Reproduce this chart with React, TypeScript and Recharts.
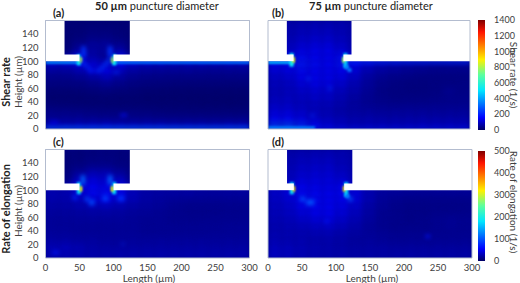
import { ComposedChart, XAxis, YAxis, ReferenceArea, Scatter } from 'recharts';

// column starts (um) and row starts (um, top row first) of the coarse field grids
const colStarts = [0, 20, 40, 60, 80, 100, 120, 140, 160, 180, 200, 220, 240, 260, 280];
const rowStarts = [150, 140, 130, 120, 110, 100, 90, 80, 70, 60, 50, 40, 30, 20, 10, 0];

const xTicks = [0, 50, 100, 150, 200, 250, 300];
const yTicks = [0, 20, 40, 60, 80, 100, 120, 140];
const shearBarTicks = [0, 200, 400, 600, 800, 1000, 1200, 1400];
const elongBarTicks = [0, 100, 200, 300, 400, 500];

// jet colormap stops
const jetStops: [number, number, number, number][] = [
  [0, 0, 0, 100],
  [0.11, 0, 0, 255],
  [0.36, 0, 230, 255],
  [0.5, 90, 255, 160],
  [0.64, 255, 240, 0],
  [0.89, 255, 20, 0],
  [1, 127, 0, 0],
];

const shearA = [
  [15, 15, 15, 15, 15, 15, 15, 15, 15, 15, 15, 15, 15, 15, 15],
  [15, 15, 18, 25, 25, 20, 15, 15, 15, 15, 15, 15, 15, 15, 15],
  [15, 15, 22, 35, 35, 25, 15, 15, 15, 15, 15, 15, 15, 15, 15],
  [15, 18, 40, 60, 60, 45, 18, 15, 15, 15, 15, 15, 15, 15, 15],
  [20, 22, 70, 70, 65, 80, 22, 15, 15, 15, 15, 15, 15, 15, 15],
  [50, 70, 170, 80, 60, 170, 70, 50, 50, 50, 50, 50, 50, 50, 50],
  [120, 120, 160, 125, 110, 160, 120, 110, 105, 100, 100, 100, 100, 100, 100],
  [70, 70, 90, 130, 150, 105, 75, 65, 60, 60, 60, 55, 55, 55, 55],
  [45, 45, 55, 75, 100, 70, 50, 42, 40, 38, 38, 38, 38, 38, 38],
  [30, 30, 32, 42, 55, 42, 32, 26, 25, 22, 22, 22, 22, 22, 22],
  [15, 15, 18, 22, 28, 22, 18, 14, 12, 10, 10, 10, 10, 10, 10],
  [8, 8, 8, 10, 12, 10, 10, 6, 6, 5, 5, 5, 5, 5, 5],
  [18, 16, 14, 12, 12, 12, 12, 12, 10, 10, 10, 8, 8, 8, 8],
  [40, 38, 35, 30, 28, 28, 28, 25, 22, 20, 20, 20, 20, 20, 20],
  [55, 55, 55, 50, 48, 48, 45, 45, 40, 40, 40, 40, 40, 40, 40],
  [90, 90, 95, 100, 105, 95, 90, 90, 90, 85, 85, 85, 85, 90, 90],
];

const shearB = [
  [80, 80, 85, 90, 90, 85, 80, 80, 80, 80, 80, 80, 80, 80, 80],
  [80, 85, 95, 100, 100, 90, 80, 80, 80, 80, 80, 80, 80, 80, 80],
  [80, 90, 105, 115, 115, 100, 85, 80, 80, 80, 80, 80, 80, 80, 80],
  [80, 100, 120, 130, 130, 110, 85, 80, 80, 80, 80, 80, 80, 80, 80],
  [80, 110, 140, 150, 150, 130, 90, 80, 80, 80, 80, 80, 80, 80, 80],
  [130, 150, 170, 160, 150, 170, 130, 100, 90, 80, 80, 80, 80, 80, 80],
  [150, 160, 190, 170, 160, 180, 150, 115, 90, 80, 70, 65, 60, 60, 60],
  [130, 140, 170, 160, 150, 160, 130, 90, 70, 60, 50, 45, 40, 40, 40],
  [110, 120, 150, 155, 150, 140, 110, 70, 50, 40, 35, 30, 30, 30, 30],
  [100, 105, 130, 145, 140, 120, 90, 60, 40, 30, 25, 25, 28, 30, 32],
  [95, 100, 115, 125, 120, 100, 80, 55, 35, 28, 25, 25, 30, 45, 35],
  [100, 105, 105, 115, 110, 90, 70, 50, 38, 30, 30, 30, 35, 40, 40],
  [110, 110, 100, 100, 95, 80, 65, 50, 45, 42, 42, 42, 45, 45, 45],
  [130, 130, 115, 100, 90, 75, 70, 65, 60, 60, 60, 60, 60, 60, 60],
  [160, 160, 135, 115, 100, 90, 80, 80, 75, 75, 75, 75, 75, 75, 75],
  [230, 240, 210, 165, 125, 105, 95, 95, 95, 95, 95, 100, 100, 100, 100],
];

const elongC = [
  [5, 5, 5, 6, 7, 6, 5, 5, 5, 5, 5, 5, 5, 5, 5],
  [5, 5, 6, 8, 9, 7, 5, 5, 5, 5, 5, 5, 5, 5, 5],
  [5, 5, 9, 14, 14, 10, 6, 5, 5, 5, 5, 5, 5, 5, 5],
  [5, 7, 20, 30, 30, 20, 8, 5, 5, 5, 5, 5, 5, 5, 5],
  [5, 10, 35, 45, 42, 35, 12, 5, 5, 5, 5, 5, 5, 5, 5],
  [24, 26, 50, 55, 50, 50, 28, 24, 24, 24, 24, 24, 24, 24, 24],
  [30, 30, 48, 60, 62, 55, 34, 26, 24, 24, 24, 22, 22, 22, 22],
  [28, 28, 34, 48, 52, 40, 32, 25, 22, 20, 18, 18, 18, 18, 18],
  [25, 25, 28, 32, 34, 30, 25, 22, 20, 16, 14, 14, 14, 15, 15],
  [22, 22, 23, 25, 25, 23, 21, 19, 17, 15, 14, 14, 14, 15, 15],
  [20, 20, 21, 21, 21, 21, 19, 17, 17, 15, 15, 15, 16, 16, 16],
  [20, 20, 19, 19, 19, 19, 19, 17, 17, 17, 17, 17, 17, 18, 18],
  [21, 21, 19, 19, 19, 19, 19, 17, 17, 17, 17, 17, 18, 18, 18],
  [25, 25, 23, 23, 21, 21, 21, 21, 21, 21, 21, 21, 21, 21, 21],
  [32, 34, 30, 26, 24, 24, 24, 24, 24, 24, 24, 24, 24, 24, 24],
  [30, 32, 30, 28, 28, 28, 28, 28, 28, 28, 28, 28, 28, 28, 28],
];

const elongD = [
  [28, 28, 30, 32, 32, 30, 28, 28, 28, 28, 28, 28, 28, 28, 28],
  [28, 30, 34, 36, 36, 32, 28, 28, 28, 28, 28, 28, 28, 28, 28],
  [28, 32, 38, 40, 40, 34, 30, 28, 28, 28, 28, 28, 28, 28, 28],
  [28, 34, 42, 44, 44, 38, 30, 28, 28, 28, 28, 28, 28, 28, 28],
  [28, 36, 46, 48, 48, 44, 32, 28, 28, 28, 28, 28, 28, 28, 28],
  [38, 44, 54, 52, 50, 54, 42, 30, 26, 26, 26, 26, 26, 26, 26],
  [40, 48, 60, 58, 54, 58, 48, 30, 22, 20, 18, 18, 18, 18, 18],
  [38, 44, 60, 60, 54, 54, 46, 30, 20, 16, 14, 14, 14, 14, 14],
  [36, 40, 52, 58, 56, 50, 40, 26, 18, 14, 12, 12, 12, 12, 12],
  [34, 38, 46, 54, 54, 46, 36, 24, 16, 14, 12, 12, 14, 14, 14],
  [32, 34, 40, 46, 48, 40, 32, 22, 16, 14, 12, 14, 16, 18, 16],
  [30, 32, 34, 38, 40, 34, 28, 20, 16, 14, 14, 14, 16, 18, 16],
  [30, 30, 30, 32, 32, 28, 24, 20, 18, 16, 16, 16, 16, 16, 16],
  [32, 30, 30, 28, 28, 26, 22, 22, 20, 18, 18, 18, 18, 18, 18],
  [36, 34, 32, 30, 28, 26, 24, 24, 24, 22, 22, 22, 22, 22, 22],
  [38, 36, 32, 30, 28, 28, 26, 26, 26, 26, 26, 26, 26, 26, 26],
];

// bright spots [x1, x2, y1, y2, value]
const hotA = [
  [0, 50, 96, 100, 360], [100, 300, 96, 100, 320],
  [0, 300, 0, 4, 280], [6, 20, 8, 11, 150], [110, 120, 19, 22, 170],
  [46, 52, 94, 110, 520], [98, 104, 94, 110, 520],
  [50, 54, 98, 106, 820], [96, 100, 98, 106, 820],
  [53, 59, 106, 122, 230], [92, 98, 106, 122, 230],
  [52, 58, 96, 100, 230], [56, 62, 92, 96, 230], [60, 66, 88, 92, 210], [64, 70, 84, 88, 210],
  [92, 97, 100, 104, 260], [88, 94, 96, 100, 260], [84, 90, 92, 96, 240], [80, 86, 88, 92, 240], [74, 82, 84, 88, 220],
  [100, 108, 82, 85, 220],
];
const hotB = [
  [0, 38, 96, 100, 440], [112, 300, 97, 100, 230],
  [0, 70, 0, 4, 350], [70, 300, 0, 2, 200],
  [32, 38, 92, 112, 520], [112, 118, 90, 112, 460],
  [36, 40, 98, 106, 900], [110, 114, 98, 106, 800],
  [114, 120, 88, 94, 360], [118, 124, 84, 90, 320], [58, 62, 72, 76, 250],
  [90, 94, 58, 62, 240], [64, 68, 18, 22, 220],
];
const hotC = [
  [46, 52, 94, 112, 170], [98, 104, 94, 112, 170],
  [50, 54, 98, 106, 320], [96, 100, 98, 106, 320],
  [52, 58, 108, 122, 110], [92, 98, 108, 122, 110],
  [58, 64, 84, 90, 95], [64, 72, 78, 86, 95], [84, 92, 84, 92, 90],
  [106, 116, 84, 92, 80], [40, 46, 86, 92, 75],
  [112, 116, 20, 22, 80], [10, 20, 6, 10, 65],
];
const hotD = [
  [32, 38, 94, 112, 170], [112, 118, 90, 112, 170],
  [36, 40, 98, 106, 340], [110, 114, 98, 106, 340],
  [48, 54, 84, 90, 110], [56, 68, 78, 86, 100],
  [114, 120, 88, 94, 120], [118, 124, 84, 90, 105], [232, 238, 30, 34, 65],
  [84, 88, 52, 56, 70],
];

function heatColor(v: number, max: number) {
  const t = Math.min(v / max, 1);
  for (let i = 1; i < jetStops.length; i++) {
    const a = jetStops[i - 1];
    const b = jetStops[i];
    if (t <= b[0]) {
      const k = (t - a[0]) / (b[0] - a[0]);
      return `rgb(${a[1] + (b[1] - a[1]) * k},${a[2] + (b[2] - a[2]) * k},${a[3] + (b[3] - a[3]) * k})`;
    }
  }
  return 'rgb(127,0,0)';
}

const blurRect = (amount: number) => (p: any) => (
  <rect
    x={p.x}
    y={p.y}
    width={p.width}
    height={p.height}
    fill={p.fill}
    clipPath={p.clipPath}
    style={{ filter: `blur(${amount}px)` }}
  />
);
const wideBlur = blurRect(3);
const midBlur = blurRect(2);
const tightBlur = blurRect(0.8);

const font = 'Lato, "Open Sans", sans-serif';
const tickStyle = { fontSize: 9.5, fill: '#404040', fontFamily: font };

const hiddenMark = () => null;

type PanelProps = {
  left: number;
  top: number;
  width: number;
  height: number;
  margin: { left: number; right: number; top: number; bottom: number };
  rows: number[][];
  hot: number[][];
  max: number;
  neck: [number, number];
  showX?: boolean;
  showY?: boolean;
};

function HeatPanel({ left, top, width, height, margin, rows, hot, max, neck, showX, showY }: PanelProps) {
  const table = rows.flatMap((row, r) => row.map((v, c) => ({ x: colStarts[c], y: rowStarts[r], v })));
  return (
    <div style={{ position: 'absolute', left, top }}>
      <ComposedChart width={width} height={height} margin={margin}>
        <XAxis
          type="number"
          dataKey="x"
          domain={[0, 300]}
          ticks={xTicks}
          hide={!showX}
          height={showX ? 20 : 0}
          tickLine={false}
          axisLine={false}
          tick={tickStyle}
          tickMargin={0}
          interval={0}
        />
        <YAxis
          type="number"
          dataKey="y"
          domain={[0, 160]}
          ticks={yTicks}
          hide={!showY}
          width={showY ? 45.5 : 0}
          tickLine={false}
          axisLine={false}
          tick={tickStyle}
          tickMargin={1}
          interval={0}
        />
        <Scatter data={table} dataKey="y" isAnimationActive={false} shape={hiddenMark} />
        <ReferenceArea x1={0} x2={300} y1={0} y2={160} fill={heatColor(rows[9][9], max)} fillOpacity={1} />
        {table.map(cell => (
          <ReferenceArea
            key={`c${cell.x}-${cell.y}`}
            x1={cell.x}
            x2={cell.x + 20}
            y1={cell.y}
            y2={cell.y + 10}
            fill={heatColor(cell.v, max)}
            fillOpacity={1}
            ifOverflow="hidden"
            shape={wideBlur}
          />
        ))}
        {hot.map((h, i) => (
          <ReferenceArea
            key={`h${i}`}
            x1={h[0]}
            x2={h[1]}
            y1={h[2]}
            y2={h[3]}
            fill={heatColor(h[4], max)}
            fillOpacity={1}
            ifOverflow="hidden"
            shape={h[4] > max * 0.22 ? tightBlur : midBlur}
          />
        ))}
        {/* everything outside the channel stays white */}
        <ReferenceArea x1={0} x2={neck[0]} y1={100} y2={110} fill="#fff" fillOpacity={1} />
        <ReferenceArea x1={neck[1]} x2={300} y1={100} y2={110} fill="#fff" fillOpacity={1} />
        <ReferenceArea x1={0} x2={28} y1={108} y2={160} fill="#fff" fillOpacity={1} />
        <ReferenceArea x1={124} x2={300} y1={108} y2={160} fill="#fff" fillOpacity={1} />
        <ReferenceArea x1={0} x2={300} y1={0} y2={160} fill="none" stroke="#b3bccf" strokeWidth={1} />
      </ComposedChart>
    </div>
  );
}

function ColorBar({ top, height, ticks, max, id }: { top: number; height: number; ticks: number[]; max: number; id: string }) {
  const table = ticks.map(t => ({ x: 0, y: t }));
  return (
    <div style={{ position: 'absolute', left: 478, top }}>
      <ComposedChart width={42} height={height} margin={{ left: 0, right: 0, top: 6, bottom: 6 }}>
        <defs>
          <linearGradient id={id} x1="0" y1="1" x2="0" y2="0">
            {jetStops.map(s => (
              <stop key={s[0]} offset={s[0]} stopColor={`rgb(${s[1]},${s[2]},${s[3]})`} />
            ))}
          </linearGradient>
        </defs>
        <XAxis type="number" dataKey="x" domain={[0, 1]} hide />
        <YAxis
          type="number"
          dataKey="y"
          orientation="right"
          domain={[0, max]}
          ticks={ticks}
          width={35}
          tickLine={false}
          axisLine={false}
          tick={{ ...tickStyle, fontSize: 9 }}
          tickMargin={3}
          interval={0}
        />
        <Scatter data={table} dataKey="y" isAnimationActive={false} shape={hiddenMark} />
        <ReferenceArea x1={0} x2={1} y1={0} y2={max} fill={`url(#${id})`} fillOpacity={1} />
      </ComposedChart>
    </div>
  );
}

function Labels() {
  const title = { fontSize: 11, fill: '#222', fontFamily: font };
  const bold = { fontSize: 11, fontWeight: 700, fill: '#222', fontFamily: font };
  const axis = { fontSize: 10, fill: '#404040', fontFamily: font };
  return (
    <svg width={520} height={283} style={{ position: 'absolute', left: 0, top: 0, pointerEvents: 'none' }}>
      <text x={53} y={17} {...bold}>(a)</text>
      <text x={272} y={17} {...bold}>(b)</text>
      <text x={53} y={146} {...bold}>(c)</text>
      <text x={272} y={146} {...bold}>(d)</text>
      <text x={95} y={10} {...title}>
        <tspan fontWeight={700}>50 µm</tspan> puncture diameter
      </text>
      <text x={309} y={10} {...title}>
        <tspan fontWeight={700}>75 µm</tspan> puncture diameter
      </text>
      <text transform="translate(10,82) rotate(-90)" textAnchor="middle" {...bold}>Shear rate</text>
      <text transform="translate(10,209) rotate(-90)" textAnchor="middle" {...bold}>Rate of elongation</text>
      <text transform="translate(22,82) rotate(-90)" textAnchor="middle" {...axis}>Height (µm)</text>
      <text transform="translate(22,211) rotate(-90)" textAnchor="middle" {...axis}>Height (µm)</text>
      <text x={149} y={282} textAnchor="middle" {...axis}>Length (µm)</text>
      <text x={372} y={282} textAnchor="middle" {...axis}>Length (µm)</text>
      <text transform="translate(510,75) rotate(90)" textAnchor="middle" {...axis}>Shear rate (1/s)</text>
      <text transform="translate(510,202) rotate(90)" textAnchor="middle" {...axis}>Rate of elongation (1/s)</text>
    </svg>
  );
}

export default function App() {
  return (
    <div style={{ position: 'absolute', left: 0, top: 0, width: 520, height: 283, overflow: 'hidden', background: '#fff' }}>
      <HeatPanel left={0} top={0} width={260} height={140} margin={{ left: 0, right: 10.5, top: 20.5, bottom: 11 }} rows={shearA} hot={hotA} max={1400} neck={[50, 100]} showY />
      <HeatPanel left={260} top={0} width={240} height={140} margin={{ left: 8, right: 30, top: 20.5, bottom: 11 }} rows={shearB} hot={hotB} max={1400} neck={[38, 112]} />
      <HeatPanel left={0} top={140} width={260} height={143} margin={{ left: 0, right: 10.5, top: 9.5, bottom: 5 }} rows={elongC} hot={hotC} max={500} neck={[50, 100]} showX showY />
      <HeatPanel left={260} top={140} width={240} height={143} margin={{ left: 8, right: 28, top: 9.5, bottom: 5 }} rows={elongD} hot={hotD} max={500} neck={[38, 112]} showX />
      <ColorBar top={14} height={122} ticks={shearBarTicks} max={1400} id="jetShear" />
      <ColorBar top={145} height={122} ticks={elongBarTicks} max={500} id="jetElong" />
      <Labels />
    </div>
  );
}
